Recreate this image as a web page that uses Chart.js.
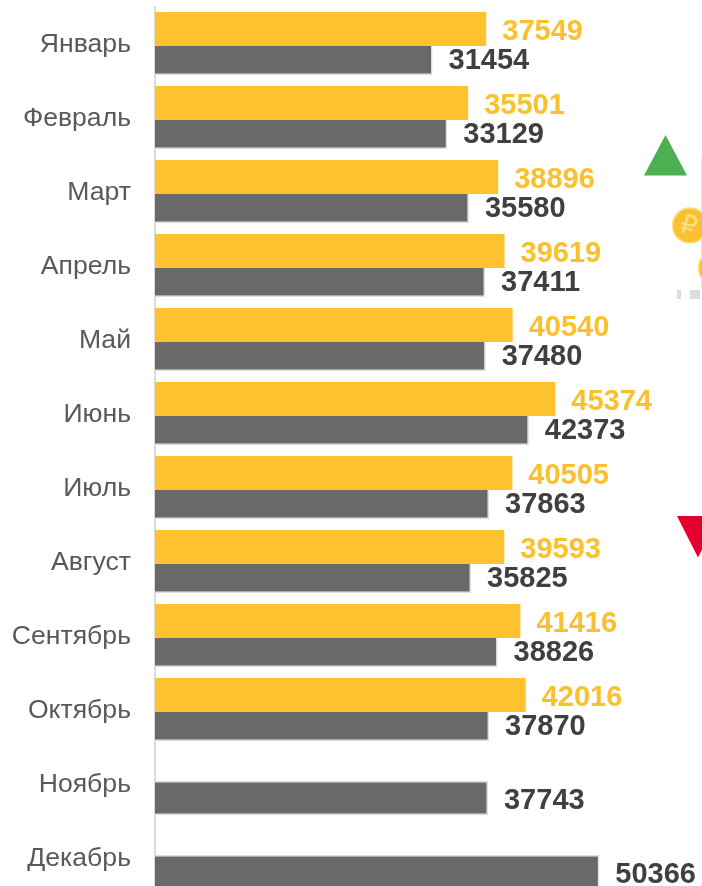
<!DOCTYPE html>
<html lang="ru">
<head>
<meta charset="utf-8">
<title>Помесячные значения</title>
<script src="https://cdn.jsdelivr.net/npm/chart.js@4/dist/chart.umd.min.js"></script>
<style>
    html, body { margin: 0; padding: 0; background: #fff; width: 702px; height: 886px; overflow: hidden; }
    #wrap { position: relative; width: 702px; height: 886px; overflow: hidden; }
    #chart { position: absolute; left: 0; top: 0; }
    #decor { position: absolute; left: 0; top: 0; pointer-events: none; }
</style>
</head>
<body>
<div id="wrap">
    <canvas id="chart" width="702" height="901"></canvas>
    <svg id="decor" width="702" height="886" viewBox="0 0 702 886">
        <polygon points="665.5,135 644,175.5 687,175.5" fill="#4caf50"/>
        <polygon points="677,516 719,516 698,557.5" fill="#e4002f"/>
        <rect x="701" y="158" width="1" height="130" fill="#e8e8e0"/>
        <circle cx="690" cy="225.5" r="17.5" fill="#fbc02d" stroke="#fde08a" stroke-width="1.5"/>
        <text x="689" y="234" text-anchor="middle" font-family="DejaVu Sans" font-size="26" fill="#fde08a" transform="rotate(15 690 225)">₽</text>
        <circle cx="716" cy="268" r="17.5" fill="#fbc02d" stroke="#fde08a" stroke-width="1.5"/>
        <rect x="677" y="290" width="4" height="9" fill="#dcdcdc"/>
        <rect x="690" y="290" width="10" height="9" fill="#dcdcdc"/>
    </svg>
</div>
<script>
const months = ['Январь', 'Февраль', 'Март', 'Апрель', 'Май', 'Июнь', 'Июль', 'Август', 'Сентябрь', 'Октябрь', 'Ноябрь', 'Декабрь'];
const yellowValues = [37549, 35501, 38896, 39619, 40540, 45374, 40505, 39593, 41416, 42016, null, null];
const grayValues = [31454, 33129, 35580, 37411, 37480, 42373, 37863, 35825, 38826, 37870, 37743, 50366];

// Value labels at the end of every bar
const barValueLabels = {
    id: 'barValueLabels',
    afterDatasetsDraw(chart) {
        const ctx = chart.ctx;
        ctx.save();
        ctx.font = 'bold 29px "Liberation Sans"';
        ctx.textAlign = 'left';
        ctx.textBaseline = 'middle';
        chart.data.datasets.forEach((dataset, i) => {
            ctx.fillStyle = dataset.labelColor;
            chart.getDatasetMeta(i).data.forEach((bar, j) => {
                const value = dataset.data[j];
                if (value === null) return;
                ctx.fillText(String(value), bar.x + 16, bar.y + 3);
            });
        });
        ctx.restore();
    }
};

new Chart(document.getElementById('chart'), {
    type: 'bar',
    data: {
        labels: months,
        datasets: [
            {
                label: 'Жёлтый ряд',
                data: yellowValues,
                backgroundColor: '#ffc12d',
                labelColor: '#fbc02d',
                borderWidth: 0
            },
            {
                label: 'Серый ряд',
                data: grayValues,
                backgroundColor: '#696969',
                labelColor: '#404040',
                borderColor: '#dcdcdc',
                borderWidth: 1.5,
                borderSkipped: 'left'
            }
        ]
    },
    options: {
        indexAxis: 'y',
        responsive: false,
        animation: false,
        categoryPercentage: 0.784,
        barPercentage: 1.172,
        layout: { padding: { top: 6.5, bottom: 6.5 } },
        plugins: {
            legend: { display: false },
            tooltip: { enabled: false }
        },
        scales: {
            x: {
                display: false,
                min: 0,
                max: 62000
            },
            y: {
                // fixed axis width, and no extra room for the first/last tick label
                afterFit(scale) {
                    scale.width = 155;
                    scale.paddingTop = 0;
                    scale.paddingBottom = 0;
                },
                grid: { display: false, drawTicks: false },
                border: { color: '#dcdcdc', width: 2 },
                ticks: {
                    color: '#595959',
                    padding: 24,
                    labelOffset: 1.5,
                    font: { family: '"Liberation Sans"', size: 26.6 }
                }
            }
        }
    },
    plugins: [barValueLabels]
});
</script>
</body>
</html>
